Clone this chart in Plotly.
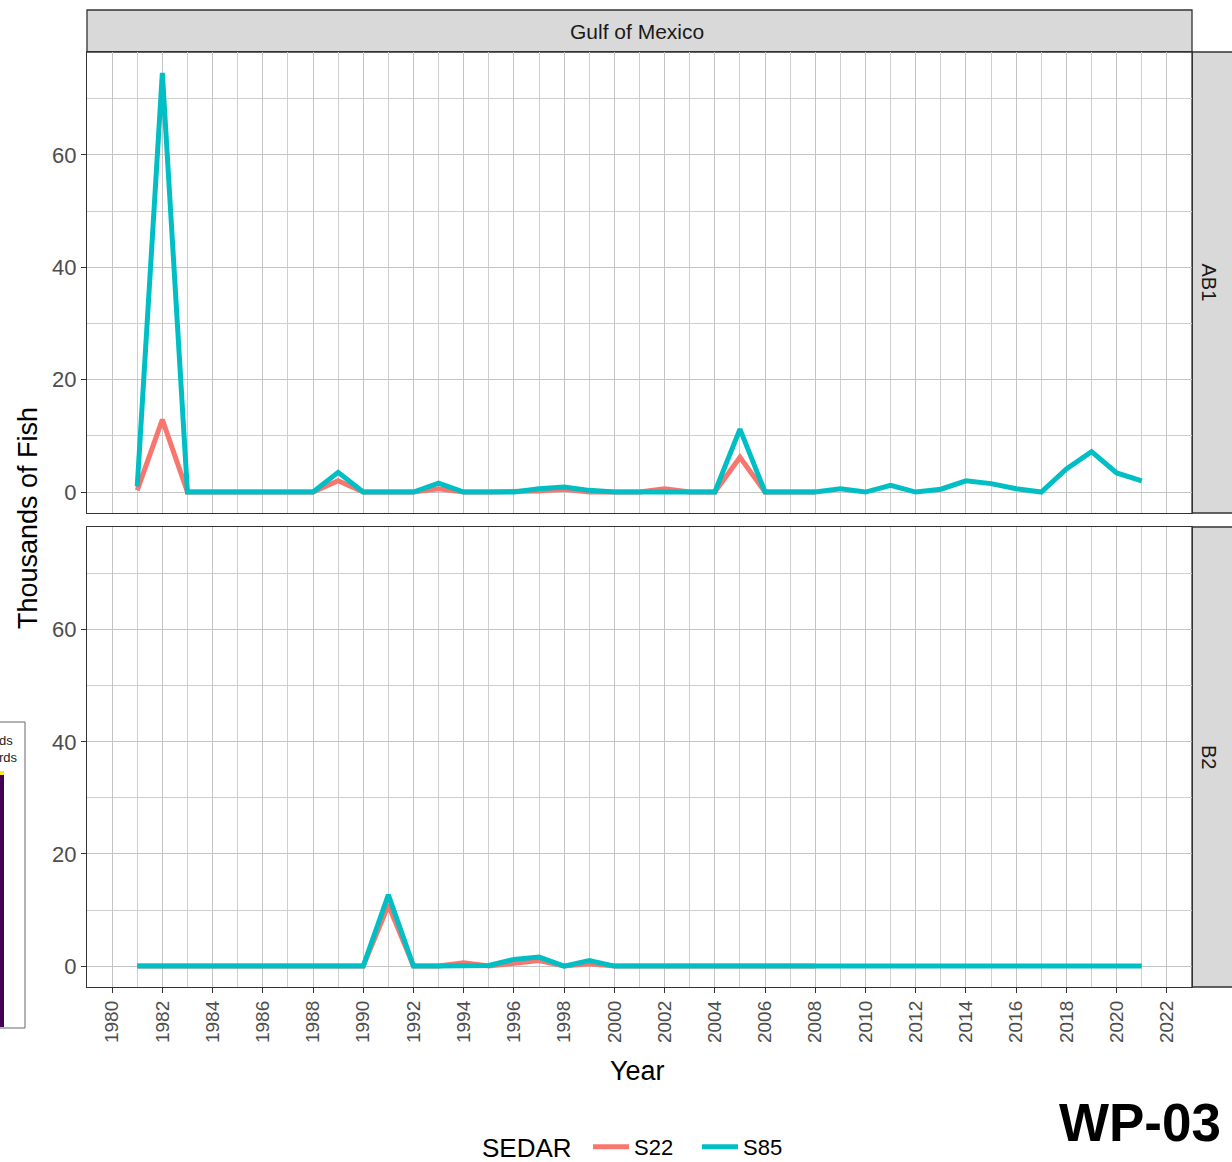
import plotly.graph_objects as go
from plotly.subplots import make_subplots

years = list(range(1981, 2022))
years_s22 = list(range(1981, 2009))

# AB1 panel
ab1_s85 = [1.0, 74.6, 0, 0, 0, 0, 0, 0, 3.5, 0, 0, 0, 1.6, 0, 0, 0, 0.6, 0.9, 0.3, 0,
           0, 0, 0, 0, 11.2, 0, 0, 0, 0.6, 0, 1.2, 0, 0.5, 2.0, 1.5, 0.6, 0, 4.1, 7.2, 3.4, 2.0]
ab1_s22 = [0.3, 12.9, 0, 0, 0, 0, 0, 0, 2.0, 0, 0, 0, 0.6, 0, 0, 0, 0.2, 0.5, 0, 0,
           0, 0.6, 0, 0, 6.2, 0, 0, 0]
# B2 panel
b2_s85 = [0, 0, 0, 0, 0, 0, 0, 0, 0, 0, 12.7, 0, 0, 0, 0.1, 1.2, 1.6, 0, 1.0, 0,
          0, 0, 0, 0, 0, 0, 0, 0, 0, 0, 0, 0, 0, 0, 0, 0, 0, 0, 0, 0, 0]
b2_s22 = [0, 0, 0, 0, 0, 0, 0, 0, 0, 0, 10.9, 0, 0, 0.6, 0, 0.6, 1.0, 0, 0.4, 0,
          0, 0, 0, 0, 0, 0, 0, 0]

panels = ["AB1", "B2"]
series_names = ["S22", "S85"]
colors = {"S22": "#F8766D", "S85": "#00BFC4"}
facet_title = "Gulf of Mexico"
legend_title = "SEDAR"

W, H = 1232, 1162
L, R, T, B = 87, 1192, 52, 987
FONT = "Liberation Sans, Arial, sans-serif"


def px(x):
    return (x - L) / (R - L)


def py(y):
    return (B - y) / (B - T)


top_dom = [py(513), 1.0]
bot_dom = [0.0, py(527)]

fig = make_subplots(rows=2, cols=1, shared_xaxes=True, vertical_spacing=0.0)

data = {("AB1", "S22"): (years_s22, ab1_s22), ("AB1", "S85"): (years, ab1_s85),
        ("B2", "S22"): (years_s22, b2_s22), ("B2", "S85"): (years, b2_s85)}

for i, p in enumerate(panels):
    for s in series_names:
        xs, ys = data[(p, s)]
        fig.add_trace(go.Scatter(x=xs, y=ys, mode="lines", name=s,
                                 line=dict(color=colors[s], width=5),
                                 showlegend=(i == 0), legendgroup=s),
                      row=i + 1, col=1)

ymax = max(max(ab1_s85), max(ab1_s22), max(b2_s85), max(b2_s22))
yr = [-0.05 * ymax, ymax * 1.05]

axis_common = dict(showline=True, linecolor="#333333", linewidth=1.3, mirror=True,
                   showgrid=True, gridcolor="#C4C4C4", gridwidth=1.4, zeroline=False,
                   automargin=False)

fig.update_xaxes(range=[1979, 2023], tick0=1980, dtick=2,
                 minor=dict(dtick=1, showgrid=True, gridcolor="#CFCFCF", gridwidth=1.1),
                 **axis_common)
fig.update_xaxes(showticklabels=False, ticks="", row=1, col=1)
fig.update_xaxes(ticks="outside", ticklen=5, tickcolor="#333333", tickangle=-90,
                 tickfont=dict(size=19, color="#4D4D4D", family=FONT), row=2, col=1)
fig.update_yaxes(range=yr, tick0=0, dtick=20, ticks="outside", ticklen=5,
                 tickcolor="#333333",
                 tickfont=dict(size=22, color="#4D4D4D", family=FONT),
                 minor=dict(dtick=10, showgrid=True, gridcolor="#CFCFCF", gridwidth=1.1),
                 **axis_common)
fig.update_layout(yaxis=dict(domain=top_dom), yaxis2=dict(domain=bot_dom))

shapes = []
annotations = []
strip_fill = "#D9D9D9"


def ann(text, x, y, size, color="#000000", angle=0, xanchor="center", family=FONT):
    annotations.append(dict(text=text, xref="paper", yref="paper", x=px(x), y=py(y),
                            xanchor=xanchor, yanchor="middle", showarrow=False,
                            textangle=angle, font=dict(size=size, color=color, family=family)))


# top strip
shapes.append(dict(type="rect", xref="paper", yref="paper", x0=0, x1=1, y0=1, y1=py(10),
                   fillcolor=strip_fill, line=dict(color="#333333", width=1.3), layer="below"))
ann(facet_title, 637, 32, 21, "#1A1A1A")
# right strips
for p, (y0, y1) in zip(panels, [(52, 513), (527, 987)]):
    shapes.append(dict(type="rect", xref="paper", yref="paper", x0=1, x1=px(1245),
                       y0=py(y1), y1=py(y0), fillcolor=strip_fill,
                       line=dict(color="#333333", width=1.3), layer="below"))
    ann(p, 1209, (y0 + y1) / 2, 20, "#1A1A1A", angle=90)

# axis titles
ann("Thousands of Fish", 28, 518, 27, angle=-90)
ann("Year", 637, 1071, 27)
# legend title
ann(legend_title, 527, 1148, 26)
# WP-03 label
ann("<b>WP-03</b>", 1223, 1122, 53, xanchor="right")

# cropped fragment at left edge
shapes.append(dict(type="rect", xref="paper", yref="paper", x0=px(-5), x1=px(25), y0=py(1028), y1=py(722),
                   fillcolor="#FFFFFF", line=dict(color="#666666", width=1)))
shapes.append(dict(type="rect", xref="paper", yref="paper", x0=px(-2), x1=px(4), y0=py(1027), y1=py(775),
                   fillcolor="#440154", line=dict(width=0)))
shapes.append(dict(type="rect", xref="paper", yref="paper", x0=px(-2), x1=px(4), y0=py(775), y1=py(771),
                   fillcolor="#FDE725", line=dict(width=0)))
ann("ds", 15, 740, 13, "#222222", xanchor="right")
ann("rds", 20, 757, 13, "#222222", xanchor="right")

fig.update_layout(
    width=W, height=H,
    margin=dict(l=L, r=W - R, t=T, b=H - B, autoexpand=False),
    paper_bgcolor="white", plot_bgcolor="white",
    font=dict(family=FONT, color="#000000"),
    shapes=shapes, annotations=annotations,
    legend=dict(orientation="h", x=px(588), xanchor="left", y=py(1147), yanchor="middle",
                font=dict(size=22, color="#000000", family=FONT),
                entrywidth=58, itemwidth=36,
                bgcolor="rgba(0,0,0,0)"),
)

fig.write_html("out.html")
